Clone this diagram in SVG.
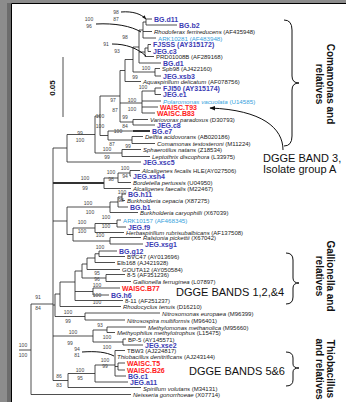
<svg xmlns="http://www.w3.org/2000/svg" width="346" height="402" viewBox="0 0 346 402">
<style>
text{font-family:"Liberation Sans",Arial,sans-serif}
.sp{font-size:6px;fill:#222}
.it{font-style:italic}
.st{font-size:7px;font-weight:bold;fill:#3c3cb4}
.rd{font-size:7px;font-weight:bold;fill:#ff2020}
.lb{font-size:6.2px;fill:#35a2dc}
.bs{font-size:5px;fill:#444;text-anchor:middle}
.ann{font-size:11px;fill:#111}
.grp{font-size:10px;font-weight:bold;fill:#111;text-anchor:middle}
.ln{fill:none;stroke:#222;stroke-width:0.8}
.tk{fill:none;stroke:#333;stroke-width:2}
.cv{fill:none;stroke:#111;stroke-width:1}
</style>
<defs>
<marker id="ah" viewBox="0 0 10 10" refX="9" refY="5" markerWidth="6" markerHeight="6" orient="auto"><path d="M0,1L10,5L0,9z" fill="#111"/></marker>
<marker id="ahs" viewBox="0 0 10 10" refX="9" refY="5" markerWidth="4" markerHeight="4" orient="auto"><path d="M0,1L10,5L0,9z" fill="#111"/></marker>
</defs>
<rect x="0" y="0" width="346" height="402" fill="#8c8c8c"/>
<rect x="7" y="3" width="4" height="399" fill="#6c6c6c"/>
<rect x="11" y="3.5" width="335" height="398.5" fill="#fff"/>
<path d="M11.5 402V3.5H346" fill="none" stroke="#000" stroke-width="1"/>

<g id="connectors">
<path class="ln" d="M146 19V25M146 19H152M146 25H177"/>
<path class="ln" d="M143 22V38M143 22H146M143 31.5H152M143 38H156"/>
<path class="ln" d="M148 44.5V51.5M148 44.5H151M148 51.5H151"/>
<path class="ln" d="M145 48V56.5M145 48H148M145 56.5H154"/>
<path class="ln" d="M139 30V63M139 30H143M139 52H145M139 63H161"/>
<path class="ln" d="M155 68.5V76M155 68.5H160M155 76H161"/>
<path class="ln" d="M133 47V72M133 47H139M133 72H155"/>
<path class="ln" d="M125 59.5V81.5M125 59.5H133M125 81.5H141"/>
<path class="ln" d="M155 88V94.5M155 88H161M155 94.5H161"/>
<path class="ln" d="M142 91V113M142 91H155M142 101H161M142 107H158M142 113H155"/>
<path class="ln" d="M133 119.5V125M133 119.5H148M133 125H155"/>
<path class="ln" d="M120 70.5V122M120 70.5H125M120 103H142M120 122H133"/>
<path class="ln" d="M132 136.5V143.5M132 136.5H143M132 143.5H155"/>
<path class="ln" d="M108 131V140M108 131H133M108 140H132"/>
<path class="tk" d="M133 131H150"/>
<path class="ln" d="M100 96V135.5M100 96H120M100 135.5H108"/>
<path class="ln" d="M122 149.5V156.5M122 149.5H141M122 156.5H150"/>
<path class="ln" d="M95 116V153M95 116H100M95 153H122"/>
<path class="ln" d="M67 134.5V162M67 134.5H95M67 162H141"/>
<path class="ln" d="M130 170.5V176M130 170.5H140M130 176H131"/>
<path class="ln" d="M118 173V182.5M118 173H130M118 182.5H131"/>
<path class="ln" d="M104 178V188.5M104 178H118M104 188.5H131"/>
<path class="ln" d="M122 194V200.5M122 194H126M122 200.5H125"/>
<path class="ln" d="M118 197V207M118 197H122M118 207H128"/>
<path class="ln" d="M110 202V212.5M110 202H118M110 212.5H138"/>
<path class="ln" d="M117 220V227M117 220H121M117 227H126"/>
<path class="ln" d="M95 223.5V232.5M95 223.5H117M95 232.5H124"/>
<path class="ln" d="M110 237.5V244M110 237.5H141M110 244H143"/>
<path class="ln" d="M73 228V241M73 228H95M73 241H110"/>
<path class="ln" d="M67 207V234.5M67 207H110M67 234.5H73"/>
<path class="ln" d="M99 251V256.5M99 251H117M99 256.5H125"/>
<path class="ln" d="M95 253.75V262.5M95 253.75H99M95 262.5H115"/>
<path class="ln" d="M87 258V269.5M87 258H95M87 269.5H120"/>
<path class="ln" d="M106 274.5V281.5M106 274.5H125M106 281.5H131"/>
<path class="ln" d="M82 264V278M82 264H87M82 278H106"/>
<path class="ln" d="M93 288V295M93 288H120M93 295H109"/>
<path class="ln" d="M75 271V300.5M75 271H82M75 291.5H93M75 300.5H123"/>
<path class="ln" d="M60 282V306.5M60 282H75M60 306.5H121"/>
<path class="ln" d="M85 313V320M85 313H160M85 320H125"/>
<path class="ln" d="M55 294V316.5M55 294H60M55 316.5H85"/>
<path class="ln" d="M107 327V332.5M107 327H146M107 332.5H115"/>
<path class="ln" d="M123 339V345M123 339H126M123 345H143"/>
<path class="ln" d="M93 330V342M93 330H107M93 342H123"/>
<path class="ln" d="M118 363V370M118 363H125M118 370H125"/>
<path class="ln" d="M115 350.5V376M115 350.5H125M115 366.5H118M115 376H126"/>
<path class="ln" d="M95 365V382M95 365H115M95 382H128"/>
<path class="ln" d="M68 373.5V387.5M68 373.5H95M68 387.5H141"/>
<path class="ln" d="M53 148V380.5M53 148H67M53 221H67M53 305H55M53 336H93M53 380.5H68"/>
<path class="tk" d="M53 183H104"/>
<path class="ln" d="M31 304V394.5M31 304H53M31 394.5H131M19 350H31"/>
<path class="ln" d="M63 57V117"/>
<path class="cv" d="M121 12C133 11 141 14 146 19" marker-end="url(#ahs)"/>
<path class="cv" d="M96 24C115 23 131 26 141 32"/>
<path class="cv" d="M112 44C126 44 137 48 146 56"/>
<path class="cv" d="M82 352C96 351 106 352 114 356"/>
<path class="cv" d="M283 150C283 128 262 110 210 108" marker-end="url(#ah)"/>
<path class="cv" d="M284 20Q292 20 292 30V76Q292 83 299 83Q292 83 292 90V136Q292 146 284 146"/>
<path class="cv" d="M286 253Q293 253 293 260V278Q293 283 299 283Q293 283 293 288V297Q293 304 286 304"/>
<path class="cv" d="M286 352Q293 352 293 358V364Q293 368 299 368Q293 368 293 372V380Q293 386 286 386"/>
</g>

<g id="leaves">
<text class="st" x="154" y="22">BG.d11</text>
<text class="st" x="179" y="28">BG.b2</text>
<text class="sp" x="154" y="34"><tspan class="it">Rhodoferax ferrireducens</tspan> (AF435948)</text>
<text class="lb" x="158" y="40.5">ARK10281 (AF483948)</text>
<text class="st" x="153" y="47">FJSSS (AY315172)</text>
<text class="st" x="153" y="54">JEG.c3</text>
<text class="sp" x="156" y="59">PRD01008B (AF289168)</text>
<text class="st" x="163" y="65.5">BG.d1</text>
<text class="sp" x="162" y="71">Spb98 (AJ422160)</text>
<text class="st" x="163" y="78.5">JEG.xsb3</text>
<text class="sp" x="143" y="84"><tspan class="it">Aquaspirillum delicatum</tspan> (AF078756)</text>
<text class="st" x="163" y="90.5">FJI50 (AY315174)</text>
<text class="st" x="163" y="97">JEG.e1</text>
<text class="lb" x="163" y="103.6"><tspan class="it">Polaromonas vacuolata</tspan> (U14585)</text>
<text class="rd" x="160" y="109.5">WAISC.T93</text>
<text class="rd" x="157" y="115.5">WAISC.B83</text>
<text class="sp" x="150" y="122"><tspan class="it">Variovorax paradoxus</tspan> (D30793)</text>
<text class="st" x="157" y="127.5">JEG.c8</text>
<text class="st" x="152" y="133.5">BG.e7</text>
<text class="sp" x="145" y="139"><tspan class="it">Delftia acidovorans</tspan> (AB020186)</text>
<text class="sp" x="157" y="146"><tspan class="it">Comamonas testosteroni</tspan> (M11224)</text>
<text class="sp" x="143" y="152"><tspan class="it">Sphaerotilus natans</tspan> (Z18534)</text>
<text class="sp" x="152" y="159"><tspan class="it">Leptothrix discophora</tspan> (L33975)</text>
<text class="st" x="143" y="164.5">JEG.xsc5</text>
<text class="sp" x="142" y="173"><tspan class="it">Alcaligenes fecalis</tspan> HLE(AY027506)</text>
<text class="st" x="133" y="178.5">JEG.xsh4</text>
<text class="sp" x="133" y="185"><tspan class="it">Bordetella pertussis</tspan> (U04950)</text>
<text class="sp" x="133" y="191"><tspan class="it">Alcaligenes faecalis</tspan> (M22467)</text>
<text class="st" x="128" y="196.5">BG.h11</text>
<text class="sp" x="127" y="203"><tspan class="it">Burkholderia cepacia</tspan> (X87275)</text>
<text class="st" x="130" y="209.5">BG.b1</text>
<text class="sp" x="140" y="215"><tspan class="it">Burkholderia caryophilli</tspan> (X67039)</text>
<text class="lb" x="123" y="222.5">ARK10157 (AF468345)</text>
<text class="st" x="128" y="229.5">JEG.f9</text>
<text class="sp" x="126" y="235"><tspan class="it">Herbaspirillum rubrisubalbicans</tspan> (AF137508)</text>
<text class="sp" x="143" y="240"><tspan class="it">Ralstonia pickettii</tspan> (X67042)</text>
<text class="st" x="145" y="246.5">JEG.xsg1</text>
<text class="st" x="119" y="253.5">BG.g12</text>
<text class="sp" x="127" y="259">BVC47 (AY013696)</text>
<text class="sp" x="117" y="265">Elb168 (AJ421928)</text>
<text class="sp" x="122" y="272">GOUTA12 (AY050584)</text>
<text class="sp" x="127" y="277">8-5 (AF351236)</text>
<text class="sp" x="133" y="284"><tspan class="it">Gallionella ferruginea</tspan> (L07897)</text>
<text class="rd" x="122" y="290.5">WAISC.B77</text>
<text class="st" x="111" y="297.5">BG.h6</text>
<text class="sp" x="125" y="303">8-11 (AF251237)</text>
<text class="sp" x="123" y="309"><tspan class="it">Rhodocyclus tenuis</tspan> (D16210)</text>
<text class="sp" x="162" y="315.5"><tspan class="it">Nitrosomonas europaea</tspan> (M96399)</text>
<text class="sp" x="127" y="322.5"><tspan class="it">Nitrosospira multiformis</tspan> (M96401)</text>
<text class="sp" x="148" y="329.5"><tspan class="it">Methylomonas methanolica</tspan> (M95660)</text>
<text class="sp" x="117" y="335"><tspan class="it">Methyophilus methylotrophus</tspan> (L15475)</text>
<text class="sp" x="128" y="341.5">BP-5 (AY145571)</text>
<text class="st" x="145" y="347.5">JEG.xse2</text>
<text class="sp" x="127" y="353">TBW3 (AJ224817)</text>
<text class="sp" x="117" y="359"><tspan class="it">Thiobacillus denitrificans</tspan> (AJ243144)</text>
<text class="rd" x="127" y="365.5">WAISC.T5</text>
<text class="rd" x="127" y="372.5">WAISC.B26</text>
<text class="st" x="128" y="379">BG.c1</text>
<text class="st" x="130" y="385">JEG.a11</text>
<text class="sp" x="143" y="390.5"><tspan class="it">Spirillum volutans</tspan> (M34131)</text>
<text class="sp" x="133" y="397"><tspan class="it">Neisseria gonorrhoeae</tspan> (X07714)</text>
</g>

<g id="bootstrap">
<text class="bs" x="116" y="14">98</text><text class="bs" x="116" y="21">87</text>
<text class="bs" x="89" y="21">100</text><text class="bs" x="89" y="28">96</text>
<text class="bs" x="125" y="39">98</text>
<text class="bs" x="106" y="46">91</text><text class="bs" x="117" y="53">93</text>
<text class="bs" x="146" y="70">100</text><text class="bs" x="135" y="79">99</text>
<text class="bs" x="143" y="89">100</text>
<text class="bs" x="113" y="102">97</text><text class="bs" x="132" y="102">100</text>
<text class="bs" x="132" y="111">100</text><text class="bs" x="115" y="112">87</text>
<text class="bs" x="125" y="119">99</text><text class="bs" x="125" y="128">84</text>
<text class="bs" x="100" y="118">100</text><text class="bs" x="100" y="128">100</text>
<text class="bs" x="118" y="133">100</text>
<text class="bs" x="112" y="146">87</text><text class="bs" x="128" y="148">99</text>
<text class="bs" x="80" y="135">99</text><text class="bs" x="80" y="142">100</text>
<text class="bs" x="107" y="151">100</text><text class="bs" x="107" y="159">99</text>
<text class="bs" x="125" y="170">100</text><text class="bs" x="125" y="178">94</text>
<text class="bs" x="111" y="174">100</text><text class="bs" x="111" y="181">98</text>
<text class="bs" x="85" y="180">100</text><text class="bs" x="85" y="190">99</text>
<text class="bs" x="122" y="194">100</text><text class="bs" x="121" y="202">98</text>
<text class="bs" x="88" y="205">100</text><text class="bs" x="90" y="214">100</text>
<text class="bs" x="106" y="219">100</text><text class="bs" x="106" y="228">100</text>
<text class="bs" x="82" y="224">100</text><text class="bs" x="82" y="233">100</text>
<text class="bs" x="100" y="237">100</text><text class="bs" x="100" y="249">100</text>
<text class="bs" x="97" y="275">95</text><text class="bs" x="97" y="281">96</text>
<text class="bs" x="97" y="287">100</text><text class="bs" x="97" y="297">100</text>
<text class="bs" x="97" y="304">100</text>
<text class="bs" x="38" y="299">91</text><text class="bs" x="38" y="310">84</text>
<text class="bs" x="68" y="314">100</text><text class="bs" x="68" y="323">99</text>
<text class="bs" x="100" y="327">93</text>
<text class="bs" x="73" y="334">100</text><text class="bs" x="70" y="344.5">99</text>
<text class="bs" x="107" y="339">100</text><text class="bs" x="107" y="349">100</text>
<text class="bs" x="23" y="347">100</text><text class="bs" x="23" y="357">100</text>
<text class="bs" x="77" y="351">94</text><text class="bs" x="77" y="357">81</text>
<text class="bs" x="105" y="362">100</text><text class="bs" x="105" y="368">99</text>
<text class="bs" x="80" y="372">100</text><text class="bs" x="80" y="380">95</text>
<text class="bs" x="59" y="378">86</text><text class="bs" x="59" y="387">83</text>
</g>

<g id="annotations">
<text x="55" y="88" transform="rotate(-90 55 88)" style="font-size:8px;font-weight:bold;text-anchor:middle;fill:#111">0.05</text>
<text class="grp" transform="translate(327 84) rotate(90)"><tspan x="0" y="0">Comamonas and</tspan><tspan x="0" y="11">relatives</tspan></text>
<text class="grp" transform="translate(327 276) rotate(90)"><tspan x="0" y="0">Gallionella and</tspan><tspan x="0" y="11">relatives</tspan></text>
<text class="grp" transform="translate(327 369) rotate(90)"><tspan x="0" y="0">Thiobacillus</tspan><tspan x="0" y="11">and relatives</tspan></text>
<text class="ann" x="263" y="162">DGGE BAND 3,</text>
<text class="ann" x="263" y="173">Isolate group A</text>
<text class="ann" x="176" y="296">DGGE BANDS 1,2,&amp;4</text>
<text class="ann" x="189" y="375">DGGE BANDS 5&amp;6</text>
</g>
</svg>
